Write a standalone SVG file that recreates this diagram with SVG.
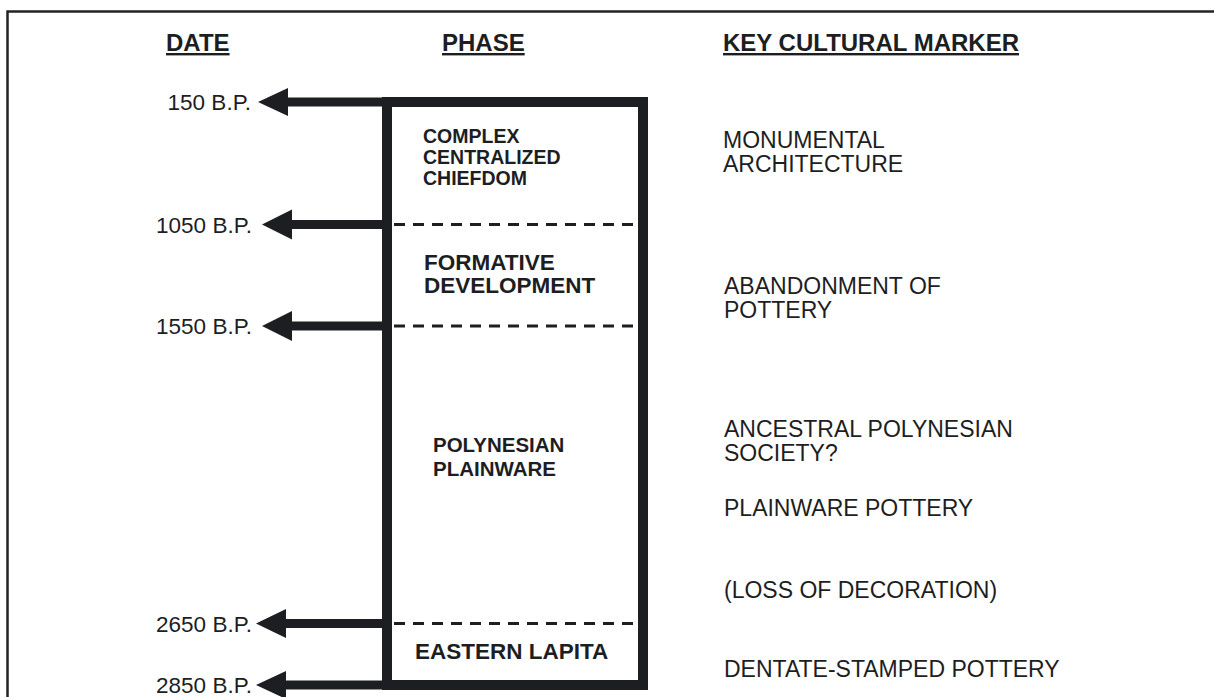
<svg xmlns="http://www.w3.org/2000/svg" width="1214" height="697" viewBox="0 0 1214 697">
<style>
  text { font-family: "Liberation Sans", Arial, sans-serif; fill: #1d1e22; }
  .head { font-size: 24px; font-weight: bold; text-decoration: underline; }
  .date { font-size: 22.5px; text-anchor: end; }
  .phase { font-size: 22.5px; font-weight: bold; }
  .phase-md { font-size: 20.5px; font-weight: bold; }
  .phase-sm { font-size: 19.5px; font-weight: bold; }
  .marker { font-size: 23px; }
  .shaft { stroke: #1d1e22; stroke-width: 9; fill: none; }
  .dash { stroke: #1d1e22; stroke-width: 3; stroke-dasharray: 11 8; fill: none; }
  .head-tri { fill: #1d1e22; }
</style>
<rect x="0" y="0" width="1214" height="697" fill="#ffffff"/>
<rect x="7.5" y="11.5" width="1220" height="700" fill="none" stroke="#222327" stroke-width="2.5"/>

<g id="headings">
  <text class="head" x="166" y="51">DATE</text>
  <text class="head" x="442" y="51">PHASE</text>
  <text class="head" x="723" y="51">KEY CULTURAL MARKER</text>
</g>

<g id="phase-box">
  <rect x="387" y="102" width="256" height="583" fill="none" stroke="#1d1e22" stroke-width="10"/>
</g>

<g id="connectors">
  <line class="shaft" x1="387" y1="102" x2="284" y2="102"/>
  <polygon class="head-tri" points="258,102 288,88 288,116"/>
  <line class="shaft" x1="387" y1="224.5" x2="288" y2="224.5"/>
  <polygon class="head-tri" points="262,224.5 292,209.5 292,239.5"/>
  <line class="shaft" x1="387" y1="326" x2="288" y2="326"/>
  <polygon class="head-tri" points="262,326 292,311 292,341"/>
  <line class="shaft" x1="387" y1="623.5" x2="282" y2="623.5"/>
  <polygon class="head-tri" points="256,623.5 286,609 286,638"/>
  <line class="shaft" x1="387" y1="685" x2="282" y2="685"/>
  <polygon class="head-tri" points="256,685 286,671 286,699"/>
  <line class="dash" x1="394" y1="224.5" x2="638" y2="224.5"/>
  <line class="dash" x1="394" y1="326" x2="638" y2="326"/>
  <line class="dash" x1="394" y1="623.5" x2="638" y2="623.5"/>
</g>

<g id="dates">
  <text class="date" x="251" y="110">150 B.P.</text>
  <text class="date" x="252" y="232.5">1050 B.P.</text>
  <text class="date" x="252" y="334">1550 B.P.</text>
  <text class="date" x="252" y="631.5">2650 B.P.</text>
  <text class="date" x="252" y="693">2850 B.P.</text>
</g>

<g id="phase-complex">
  <text class="phase-sm" x="423" y="143">COMPLEX</text>
  <text class="phase-sm" x="423" y="164">CENTRALIZED</text>
  <text class="phase-sm" x="423" y="185">CHIEFDOM</text>
</g>
<g id="phase-formative">
  <text class="phase" x="424" y="270">FORMATIVE</text>
  <text class="phase" x="424" y="293">DEVELOPMENT</text>
</g>
<g id="phase-plainware">
  <text class="phase-md" x="433" y="452">POLYNESIAN</text>
  <text class="phase-md" x="433" y="476">PLAINWARE</text>
</g>
<g id="phase-lapita">
  <text class="phase" x="415" y="659">EASTERN LAPITA</text>
</g>

<g id="markers">
  <text class="marker" x="723" y="148">MONUMENTAL</text>
  <text class="marker" x="723" y="172">ARCHITECTURE</text>
  <text class="marker" x="724" y="294">ABANDONMENT OF</text>
  <text class="marker" x="724" y="318">POTTERY</text>
  <text class="marker" x="724" y="437">ANCESTRAL POLYNESIAN</text>
  <text class="marker" x="724" y="461">SOCIETY?</text>
  <text class="marker" x="724" y="516">PLAINWARE POTTERY</text>
  <text class="marker" x="724" y="598">(LOSS OF DECORATION)</text>
  <text class="marker" x="724" y="677">DENTATE-STAMPED POTTERY</text>
</g>
</svg>
